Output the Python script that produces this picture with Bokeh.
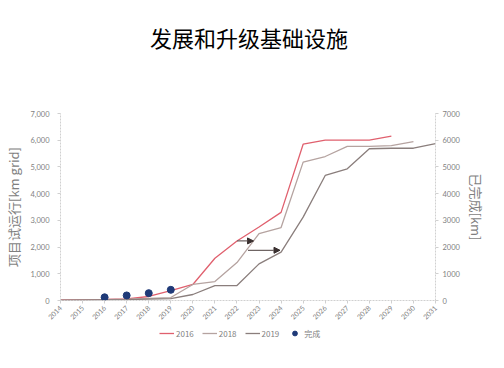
import math
from bokeh.plotting import figure
from bokeh.layouts import column
from bokeh.models import (Range1d, LinearAxis, FixedTicker, NumeralTickFormatter,
                          Legend, LegendItem, Arrow, NormalHead, Div)
from bokeh.embed import file_html
from bokeh.resources import INLINE

nan = float("nan")

# ---- data ----
years = list(range(2014, 2032))
s2016 = [20, 30, 40, 60, 150, 370, 600, 1580, 2230, 2750, 3300, 5850, 6000, 6000, 6000, 6150, nan, nan]
s2018 = [10, 20, 30, 50, 80, 110, 600, 710, 1420, 2500, 2730, 5180, 5390, 5770, 5770, 5800, 5950, nan]
s2019 = [0, 10, 20, 30, 50, 70, 225, 560, 560, 1370, 1810, 3120, 4680, 4930, 5680, 5700, 5700, 5870]
done_years = [2016, 2017, 2018, 2019]
done_vals = [120, 190, 275, 400]
arrow_x0 = [2022.0, 2022.5]
arrow_x1 = [2022.75, 2023.95]
arrow_y = [2230, 1880]

title = "发展和升级基础设施"
left_label = "项目试运行[km grid]"
right_label = "已完成[km]"
series_names = ["2016", "2018", "2019", "完成"]

GRAY = "#7f7f7f"
AX = "#d0d0d0"
CJK = "Noto Sans CJK SC"
NUM = "Lato"
C16, C18, C19, CDONE = "#e0606e", "#b5a3a0", "#8a7e7c", "#1f3a78"

head = Div(text=title, width=488, height=64,
           styles={"font-size": "22px", "line-height": "64px", "text-align": "center",
                   "font-family": CJK, "color": "#000000", "width": "488px"})

p = figure(width=488, height=253,
           output_backend="svg", toolbar_location=None,
           x_range=Range1d(2014, 2031), y_range=Range1d(0, 7000),
           min_border_left=60, min_border_right=53, min_border_top=39, min_border_bottom=27)
p.outline_line_color = None
p.xgrid.visible = False
p.ygrid.visible = False
p.background_fill_color = "white"
p.border_fill_color = "white"

# x axis
xa = p.xaxis[0]
xa.ticker = FixedTicker(ticks=years)
xa.major_label_orientation = math.pi / 4
xa.major_label_text_font = NUM
xa.major_label_text_font_size = "7px"
xa.major_label_text_color = GRAY
xa.axis_line_color = AX
xa.axis_line_dash = "2 1"
xa.major_tick_line_color = AX
xa.major_tick_in = 0
xa.major_tick_out = 3
xa.minor_tick_line_color = None
xa.major_label_standoff = 3

# left axis
ya = p.yaxis[0]
ya.ticker = FixedTicker(ticks=list(range(0, 7001, 1000)))
ya.formatter = NumeralTickFormatter(format="0,0")
ya.major_label_text_font = NUM
ya.major_label_text_font_size = "7.5px"
ya.major_label_text_color = GRAY
ya.axis_line_color = AX
ya.axis_line_dash = "2 1"
ya.major_tick_line_color = AX
ya.major_tick_in = 0
ya.major_tick_out = 3
ya.minor_tick_line_color = None
ya.major_label_standoff = 8
ya.axis_label = left_label
ya.axis_label_text_font = CJK
ya.axis_label_text_font_size = "13px"
ya.axis_label_text_font_style = "normal"
ya.axis_label_text_color = GRAY
ya.axis_label_standoff = 4

# right axis
p.extra_y_ranges = {"right": Range1d(0, 7000)}
ra = LinearAxis(y_range_name="right", ticker=FixedTicker(ticks=list(range(0, 7001, 1000))))
ra.major_label_text_font = NUM
ra.major_label_text_font_size = "7.5px"
ra.major_label_text_color = GRAY
ra.axis_line_color = AX
ra.axis_line_dash = "2 1"
ra.major_tick_line_color = AX
ra.major_tick_in = 0
ra.major_tick_out = 3
ra.minor_tick_line_color = None
ra.major_label_standoff = 4
ra.axis_label = right_label
ra.axis_label_text_font = CJK
ra.axis_label_text_font_size = "13px"
ra.axis_label_text_font_style = "normal"
ra.axis_label_text_color = GRAY
ra.axis_label_standoff = 4
p.add_layout(ra, "right")

p.line(years, s2016, line_color=C16, line_width=1.3)
p.line(years, s2018, line_color=C18, line_width=1.3)
p.line(years, s2019, line_color=C19, line_width=1.3)
p.scatter(done_years, done_vals, size=7, fill_color=CDONE, line_color=CDONE,
          y_range_name="right")

for x0, x1, y in zip(arrow_x0, arrow_x1, arrow_y):
    p.add_layout(Arrow(x_start=x0, y_start=y, x_end=x1, y_end=y,
                       line_color="#6f6564", line_width=1.3,
                       end=NormalHead(size=6, fill_color="#3a3030", line_color="#3a3030")))

# legend strip: same series drawn outside its (hidden) view, only the legend shows
lg = figure(width=488, height=16, output_backend="svg", toolbar_location=None,
            x_range=Range1d(0, 1), y_range=Range1d(0, 1),
            x_axis_location=None, y_axis_location=None,
            min_border_left=60, min_border_right=53, min_border_top=0, min_border_bottom=0)
lg.outline_line_color = None
lg.xgrid.visible = False
lg.ygrid.visible = False
q1 = lg.line(years, s2016, line_color=C16, line_width=1.3)
q2 = lg.line(years, s2018, line_color=C18, line_width=1.3)
q3 = lg.line(years, s2019, line_color=C19, line_width=1.3)
q4 = lg.scatter(done_years, done_vals, size=6, fill_color=CDONE, line_color=CDONE)
legend = Legend(items=[LegendItem(label=series_names[0], renderers=[q1]),
                       LegendItem(label=series_names[1], renderers=[q2]),
                       LegendItem(label=series_names[2], renderers=[q3]),
                       LegendItem(label=series_names[3], renderers=[q4])],
                orientation="horizontal", location=(99, 4),
                glyph_width=15, glyph_height=12, label_height=12, label_width=16,
                label_standoff=2, spacing=8,
                padding=0, margin=0, border_line_color=None, background_fill_alpha=0,
                label_text_font_size="8px", label_text_color=GRAY, label_text_font=CJK)
lg.add_layout(legend, "center")

open("out.html", "w").write(file_html(column(head, p, lg), INLINE))
